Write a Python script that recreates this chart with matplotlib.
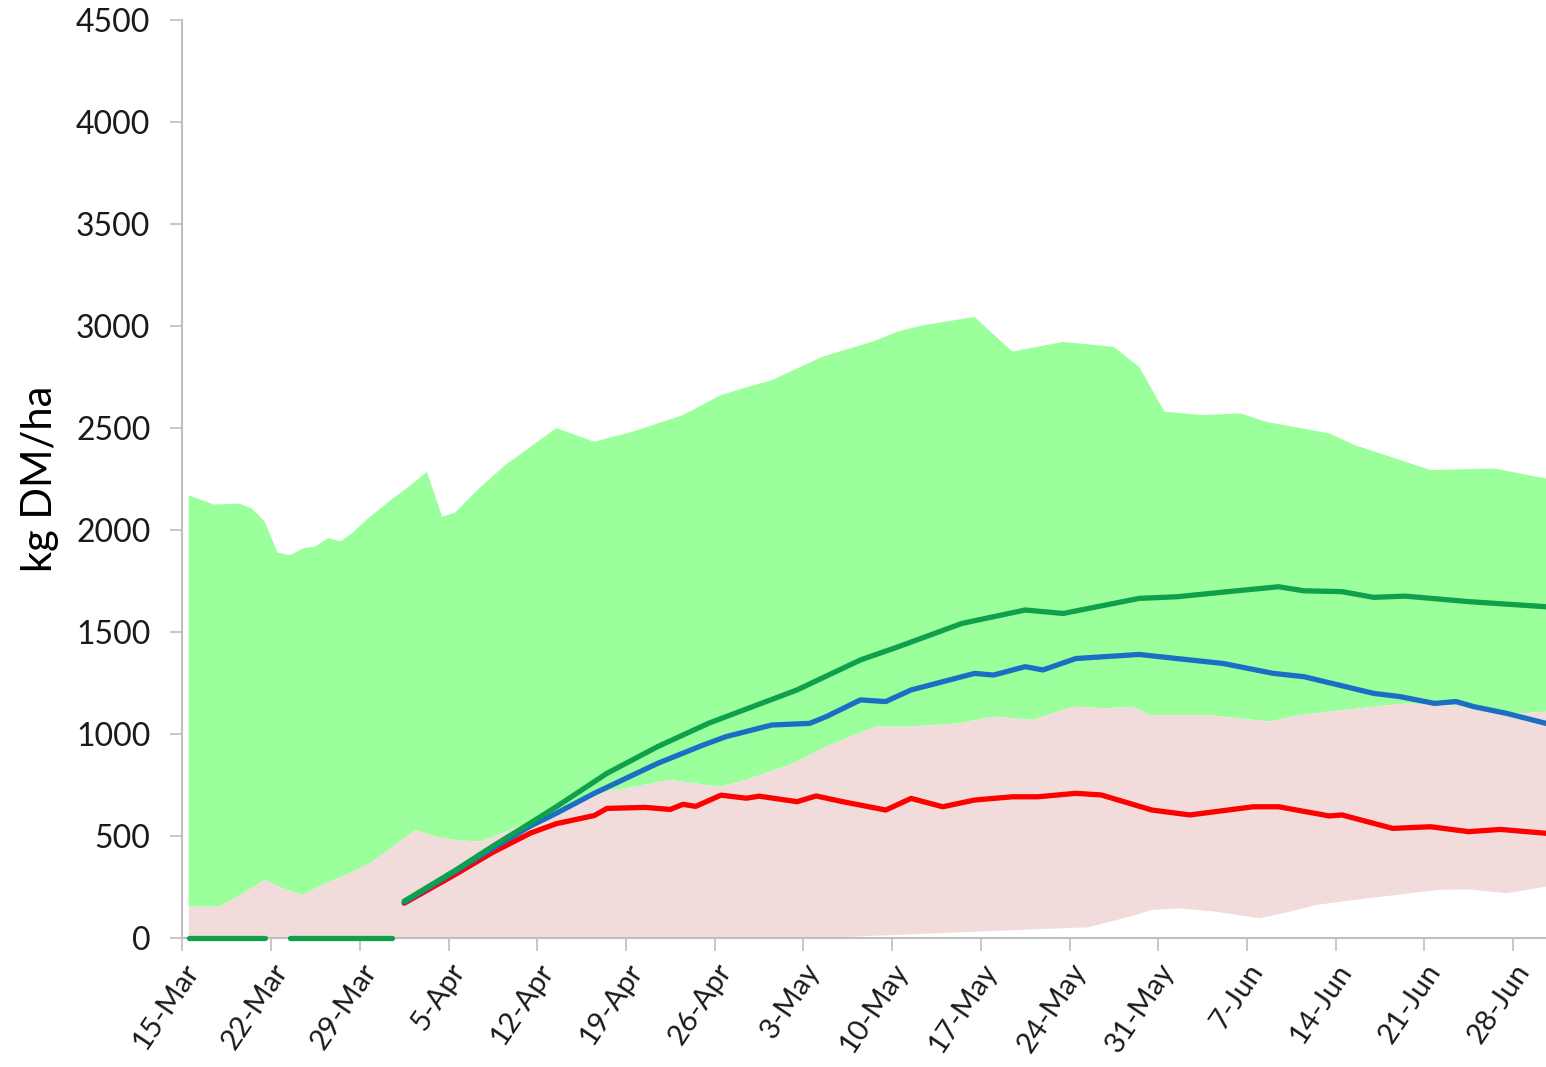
import numpy as np
import matplotlib
matplotlib.use("Agg")
import matplotlib.pyplot as plt

# days after 15-Mar
upper_day = [0, 2, 4, 5, 6, 7, 8, 9, 10, 11, 12, 13, 14, 16, 17, 18.8, 20, 21, 23, 25,
             29, 32, 35, 39, 42, 44, 46, 50, 54, 56, 58, 62, 65, 69, 73, 75, 77, 80,
             83, 85, 90, 92, 98, 103, 107.1]
upper_val = [2170, 2125, 2130, 2105, 2040, 1890, 1877, 1910, 1920, 1960, 1945, 1990, 2050,
             2150, 2196, 2285, 2065, 2085, 2210, 2320, 2500, 2433, 2482, 2564, 2662, 2700,
             2735, 2850, 2925, 2975, 3005, 3045, 2875, 2923, 2898, 2800, 2580, 2564, 2572,
             2531, 2474, 2417, 2294, 2302, 2253]

mid_day = [0, 2.4, 4.3, 6, 7.4, 9, 10.8, 12.7, 14.3, 16.1, 17.9, 19.5, 21, 23, 25, 28, 31,
           33, 35.3, 37.9, 41.9, 44, 47.7, 50.3, 54.2, 56.9, 60.8, 63.5, 66.6, 69.8, 72.4,
           74.5, 75.8, 80.3, 85.3, 87.7, 93.5, 96.1, 101.4, 105, 107.1]
mid_val = [153, 153, 219, 284, 243, 211, 268, 317, 366, 448, 529, 497, 480, 472, 520, 600,
           680, 720, 742, 775, 742, 775, 856, 938, 1036, 1036, 1052, 1085, 1069, 1134, 1126,
           1134, 1093, 1093, 1061, 1093, 1134, 1150, 1134, 1101, 1109]

lower_day = [0, 50, 52, 56, 62, 66, 71, 74, 76, 78, 81, 84.5, 87, 89, 93, 98.6, 101, 104, 107.1]
lower_val = [0, 0, 5, 15, 30, 40, 52, 100, 137, 145, 129, 96, 130, 162, 194, 235, 238, 219, 251]

green_day = [17, 21, 24, 27, 29, 33, 37, 41, 42.4, 48, 53, 56, 61, 63.5, 66, 69, 75, 78,
             82, 86, 88, 91, 93.5, 96, 101, 107.1]
green_val = [180, 330, 450, 565, 643, 807, 938, 1052, 1085, 1216, 1363, 1428, 1542, 1575,
             1608, 1591, 1665, 1673, 1698, 1722, 1702, 1698, 1670, 1676, 1649, 1624]

blue_day = [17, 21, 24, 27, 29, 32, 37, 40.6, 42.4, 46, 49, 50.3, 53, 55, 57, 58, 62, 63.5,
            66, 67.4, 70, 75, 79, 81.6, 85.6, 88, 93.5, 95.6, 98.3, 100, 101.4, 104, 107.1]
blue_val = [175, 325, 440, 550, 611, 709, 856, 946, 987, 1044, 1052, 1085, 1167, 1159, 1216,
            1232, 1297, 1289, 1330, 1314, 1370, 1390, 1363, 1346, 1297, 1281, 1199, 1183,
            1150, 1159, 1134, 1101, 1052]

red_day = [17, 21, 24, 27, 29, 32, 33, 36, 38, 39, 40, 42, 44, 45, 48, 49.5, 51.6, 55, 57,
           59.5, 62, 65, 67, 70, 72, 76, 79, 84, 86, 90, 91, 95, 98, 101, 103.5, 107.1]
red_val = [170, 310, 420, 515, 560, 600, 635, 640, 630, 655, 645, 700, 685, 695, 668, 696,
           668, 627, 684, 643, 676, 692, 692, 709, 701, 627, 603, 643, 643, 598, 603, 537,
           545, 521, 532, 513]

# green series before 1-Apr: zero with a missing day
zero_day = list(range(0, 17))
zero_val = [0, 0, 0, 0, 0, 0, 0, np.nan, 0, 0, 0, 0, 0, 0, 0, 0, 0]

tick_labels = ["15-Mar", "22-Mar", "29-Mar", "5-Apr", "12-Apr", "19-Apr", "26-Apr", "3-May",
               "10-May", "17-May", "24-May", "31-May", "7-Jun", "14-Jun", "21-Jun", "28-Jun"]

plt.rcParams.update({"font.family": ["Lato", "DejaVu Sans"], "font.size": 23})

fig = plt.figure(figsize=(15.46, 10.67), dpi=100)
ax = fig.add_axes([0.118, 0.121, 0.882, 0.860])

ud, uv = np.array(upper_day), np.array(upper_val)
md, mv = np.array(mid_day), np.array(mid_val)
ld, lv = np.array(lower_day), np.array(lower_val)

ax.fill(np.concatenate([ud, md[::-1]]), np.concatenate([uv, mv[::-1]]),
        color="#9bff9b", lw=0, zorder=1)
ax.fill(np.concatenate([md, ld[::-1]]), np.concatenate([mv, lv[::-1]]),
        color="#f2dcdb", lw=0, zorder=2)

lw = 3.8
ax.plot(red_day, red_val, color="#ff0000", lw=lw, zorder=3, solid_capstyle="round")
ax.plot(blue_day, blue_val, color="#1a6fc4", lw=lw, zorder=4, solid_capstyle="round")
ax.plot(green_day, green_val, color="#0ea04a", lw=lw, zorder=5, solid_capstyle="round")
ax.plot(zero_day, zero_val, color="#0ea04a", lw=lw, zorder=7, solid_capstyle="round",
        clip_on=False)

ax.set_xlim(-0.5, 107.1)
ax.set_ylim(0, 4500)
ax.set_yticks(np.arange(0, 4501, 500))
ax.set_xticks(np.arange(len(tick_labels)) * 7 - 0.5)
ax.set_xticklabels(tick_labels, rotation=56, ha="right", rotation_mode="anchor", fontsize=21)

for side in ["top", "right"]:
    ax.spines[side].set_visible(False)
for side in ["left", "bottom"]:
    ax.spines[side].set_color("#bfbfbf")
    ax.spines[side].set_linewidth(1.5)
    ax.spines[side].set_zorder(6)
ax.tick_params(axis="both", colors="#bfbfbf", length=9, width=1.2, labelcolor="#1a1a1a")
ax.tick_params(axis="y", pad=14)
ax.tick_params(axis="x", pad=6)

ax.set_ylabel("kg DM/ha", fontsize=30, labelpad=12)

fig.savefig("out.png", dpi=100)
